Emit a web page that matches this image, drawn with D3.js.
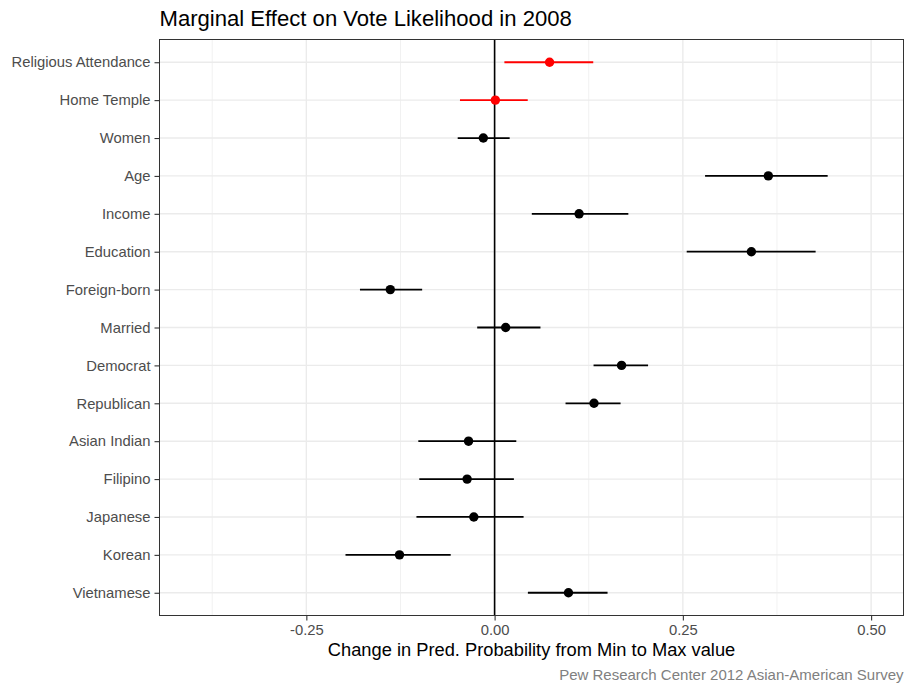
<!DOCTYPE html>
<html>
<head>
<meta charset="utf-8">
<script src="https://cdn.jsdelivr.net/npm/d3@7/dist/d3.min.js"></script>
<style>
  html, body { margin: 0; padding: 0; background: #fff; }
  svg { display: block; font-family: "Liberation Sans", Arial, Helvetica, sans-serif; }
</style>
</head>
<body>
<svg id="chart" width="906" height="688"></svg>
<script>
const categories = ["Religious Attendance","Home Temple","Women","Age","Income","Education","Foreign-born","Married","Democrat","Republican","Asian Indian","Filipino","Japanese","Korean","Vietnamese"];
const estimates = [0.073, 0.001, -0.015, 0.3635, 0.1122, 0.341, -0.1385, 0.0147, 0.1686, 0.132, -0.0346, -0.0365, -0.0276, -0.1263, 0.0981];
const lower =     [0.013, -0.046, -0.049, 0.2795, 0.0494, 0.2551, -0.1788, -0.0231, 0.1314, 0.0942, -0.1013, -0.100, -0.1038, -0.198, 0.0442];
const upper =     [0.131, 0.044, 0.020, 0.4423, 0.1776, 0.4263, -0.0962, 0.0609, 0.2038, 0.1673, 0.0288, 0.0256, 0.0385, -0.0583, 0.150];
const highlighted = [true, true, false, false, false, false, false, false, false, false, false, false, false, false, false];
const majorTicks = [-0.25, 0, 0.25, 0.5];
const tickLabels = ["-0.25", "0.00", "0.25", "0.50"];
const minorTicks = [-0.375, -0.125, 0.125, 0.375];
const xDomain = [-0.445, 0.543];
const titleText = "Marginal Effect on Vote Likelihood in 2008";
const xTitle = "Change in Pred. Probability from Min to Max value";
const captionText = "Pew Research Center 2012 Asian-American Survey";

(function () {
const rows = categories.map((c, i) => ({ cat: c, est: estimates[i], lo: lower[i], hi: upper[i], hl: highlighted[i] }));

const svg = d3.select("#chart");
const pL = 159.5, pR = 903.5, pT = 39.5, pB = 615.5;

const x = d3.scaleLinear().domain(xDomain).range([pL, pR]);
const y = d3.scalePoint().domain(categories).range([pT, pB]).padding(0.6);

svg.append("rect").attr("x", pL).attr("y", pT).attr("width", pR - pL).attr("height", pB - pT).attr("fill", "#fff");

svg.append("g").selectAll("line").data(minorTicks).join("line")
  .attr("x1", d => x(d)).attr("x2", d => x(d)).attr("y1", pT).attr("y2", pB)
  .attr("stroke", "#EBEBEB").attr("stroke-width", 0.7);
svg.append("g").selectAll("line").data(majorTicks).join("line")
  .attr("x1", d => x(d)).attr("x2", d => x(d)).attr("y1", pT).attr("y2", pB)
  .attr("stroke", "#EBEBEB").attr("stroke-width", 1.4);
svg.append("g").selectAll("line").data(categories).join("line")
  .attr("x1", pL).attr("x2", pR).attr("y1", d => y(d)).attr("y2", d => y(d))
  .attr("stroke", "#EBEBEB").attr("stroke-width", 1.4);

svg.append("line").attr("x1", x(0)).attr("x2", x(0)).attr("y1", pT).attr("y2", pB)
  .attr("stroke", "#000").attr("stroke-width", 1.6);

svg.append("g").selectAll("line").data(rows).join("line")
  .attr("x1", d => x(d.lo)).attr("x2", d => x(d.hi)).attr("y1", d => y(d.cat)).attr("y2", d => y(d.cat))
  .attr("stroke", d => d.hl ? "#FF0000" : "#000").attr("stroke-width", 1.8);
svg.append("g").selectAll("circle").data(rows).join("circle")
  .attr("cx", d => x(d.est)).attr("cy", d => y(d.cat)).attr("r", 4.7)
  .attr("fill", d => d.hl ? "#FF0000" : "#000");

svg.append("rect").attr("x", pL).attr("y", pT).attr("width", pR - pL).attr("height", pB - pT)
  .attr("fill", "none").attr("stroke", "#333333").attr("stroke-width", 1);

const xAxis = d3.axisBottom(x).tickValues(majorTicks).tickFormat((d, i) => tickLabels[i]).tickSize(5).tickPadding(4);
const gx = svg.append("g").attr("transform", `translate(0,${pB})`).call(xAxis);
gx.select(".domain").remove();
gx.selectAll(".tick line").attr("stroke", "#333333").attr("stroke-width", 1.1);
gx.selectAll(".tick text").attr("fill", "#4D4D4D").attr("font-size", "14.8px").attr("font-family", "Liberation Sans, Arial, sans-serif");

const yAxis = d3.axisLeft(y).tickSize(5).tickPadding(4);
const gy = svg.append("g").attr("transform", `translate(${pL},0)`).call(yAxis);
gy.select(".domain").remove();
gy.selectAll(".tick line").attr("stroke", "#333333").attr("stroke-width", 1.1);
gy.selectAll(".tick text").attr("fill", "#4D4D4D").attr("font-size", "14.8px").attr("font-family", "Liberation Sans, Arial, sans-serif");

svg.append("text").attr("x", pL).attr("y", 26).attr("font-size", "22.1px").attr("fill", "#000").text(titleText);
svg.append("text").attr("x", (pL + pR) / 2).attr("y", 656).attr("text-anchor", "middle")
  .attr("font-size", "18.3px").attr("fill", "#000").text(xTitle);
svg.append("text").attr("x", pR).attr("y", 680).attr("text-anchor", "end")
  .attr("font-size", "15px").attr("fill", "#808080").text(captionText);
})();
</script>
</body>
</html>
